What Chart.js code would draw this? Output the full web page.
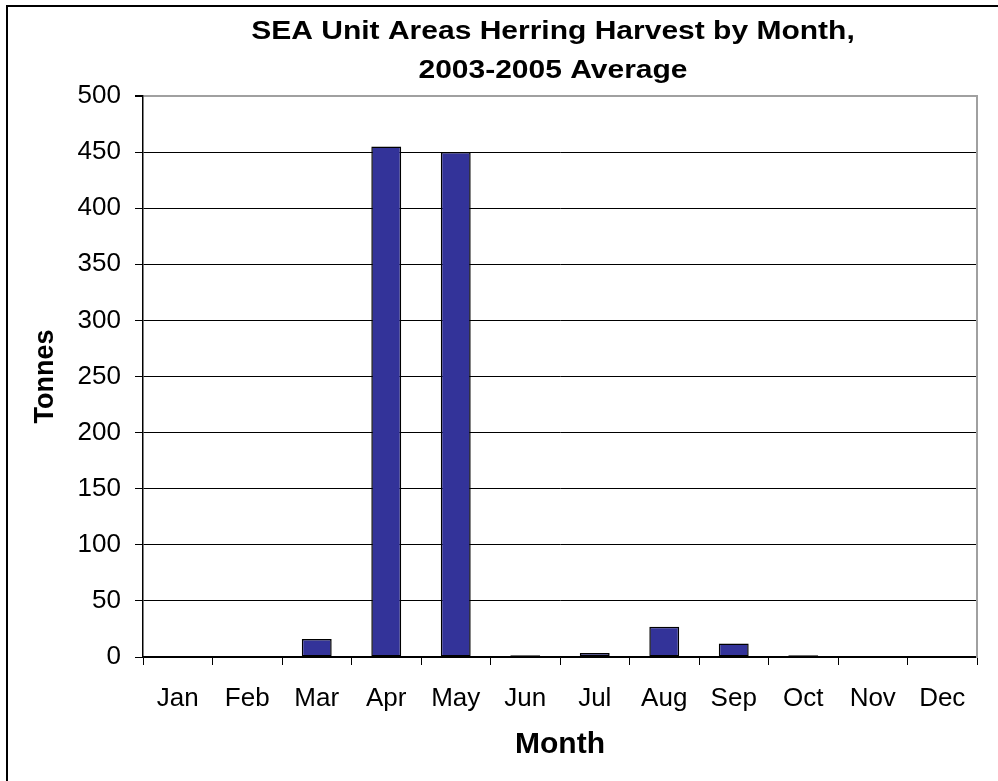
<!DOCTYPE html>
<html>
<head>
<meta charset="utf-8">
<title>SEA Unit Areas Herring Harvest by Month</title>
<script src="https://cdn.jsdelivr.net/npm/chart.js@4"></script>
<style>
    html, body { margin: 0; padding: 0; background: #fff; }
    #wrap { position: relative; width: 998px; height: 781px; overflow: hidden; }
    #frame {
        position: absolute; left: 6px; top: 5px; width: 1100px; height: 900px;
        border-left: 2px solid #000; border-top: 2px solid #000;
    }
    #canvas { position: absolute; left: 0; top: 0; }
</style>
</head>
<body>
<div id="wrap">
    <div id="frame"></div>
    <canvas id="canvas" width="998" height="781"></canvas>
</div>
<script>
const months = ['Jan', 'Feb', 'Mar', 'Apr', 'May', 'Jun', 'Jul', 'Aug', 'Sep', 'Oct', 'Nov', 'Dec'];
const tonnes = [0, 0, 16, 455, 450, 1.5, 3.5, 27, 12, 1.5, 0, 0];
const titleLines = ['SEA Unit Areas Herring Harvest by Month,', '2003-2005 Average'];

const FONT = '"Liberation Sans", Arial, sans-serif';

var harvestChart = null;

// two-line heading, a little wider than the font's natural width
const headingPlugin = {
    id: 'heading',
    afterDraw(chart, args, opts) {
        const ctx = chart.ctx;
        ctx.save();
        ctx.fillStyle = '#000';
        ctx.font = 'bold ' + opts.size + 'px ' + FONT;
        ctx.textAlign = 'center';
        ctx.textBaseline = 'middle';
        ctx.translate(opts.x, opts.y);
        ctx.scale(opts.stretch, 1);
        opts.lines.forEach((line, i) => {
            ctx.fillText(line, 0, i * opts.lineHeight);
        });
        ctx.restore();
    }
};

function renderChart() {
    var ctx = document.getElementById('canvas').getContext('2d');
    harvestChart = new Chart(ctx, {
        type: 'bar',
        data: {
            labels: months,
            datasets: [{
                label: 'Tonnes',
                data: tonnes,
                backgroundColor: '#333399',
                borderColor: '#000',
                borderWidth: 1.5,
                borderSkipped: false,
                categoryPercentage: 1,
                barPercentage: 0.43,
            }]
        },
        options: {
            responsive: false,
            animation: false,
            layout: {
                padding: { left: 0, right: 21, top: 96, bottom: 0 }
            },
            plugins: {
                legend: { display: false },
                tooltip: { enabled: false },
                title: { display: false },
                heading: { lines: titleLines, size: 25, stretch: 1.2, x: 553, y: 32, lineHeight: 39 }
            },
            scales: {
                x: {
                    grid: {
                        offset: true,
                        drawOnChartArea: false,
                        color: '#000',
                        tickLength: 8,
                    },
                    border: { color: '#000', width: 1.5 },
                    ticks: {
                        color: '#000',
                        font: { family: FONT, size: 26 },
                        padding: 18,
                        maxRotation: 0,
                    },
                    title: {
                        display: true,
                        text: 'Month',
                        color: '#000',
                        font: { family: FONT, size: 30, weight: 'bold' },
                        padding: { top: 18, bottom: 18 },
                    },
                    afterFit: function(scale) { scale.height = 124; }
                },
                y: {
                    min: 0,
                    max: 500,
                    ticks: {
                        stepSize: 50,
                        color: '#000',
                        font: { family: FONT, size: 26 },
                        padding: 14,
                    },
                    grid: {
                        color: (c) => c.tick && c.tick.value === 500 ? '#a0a0a0' : '#000',
                        lineWidth: (c) => c.tick && c.tick.value === 500 ? 2 : 1,
                        tickColor: '#000',
                        tickLength: 8,
                    },
                    border: { color: '#000', width: 1.5 },
                    title: {
                        display: true,
                        text: 'Tonnes',
                        color: '#000',
                        font: { family: FONT, size: 27, weight: 'bold' },
                        padding: { top: 29, bottom: 29 },
                    },
                    afterFit: function(scale) { scale.width = 143; }
                },
                yRight: {
                    position: 'right',
                    min: 0,
                    max: 500,
                    ticks: { display: false },
                    grid: { drawOnChartArea: false, drawTicks: false },
                    border: { color: '#a0a0a0', width: 2 },
                    afterFit: function(scale) { scale.width = 0; }
                }
            }
        },
        plugins: [headingPlugin]
    });
}

function onLoad() {
    renderChart();
}

if (document.readyState !== 'loading') {
    onLoad();
} else {
    document.addEventListener('DOMContentLoaded', onLoad);
}
</script>
</body>
</html>
